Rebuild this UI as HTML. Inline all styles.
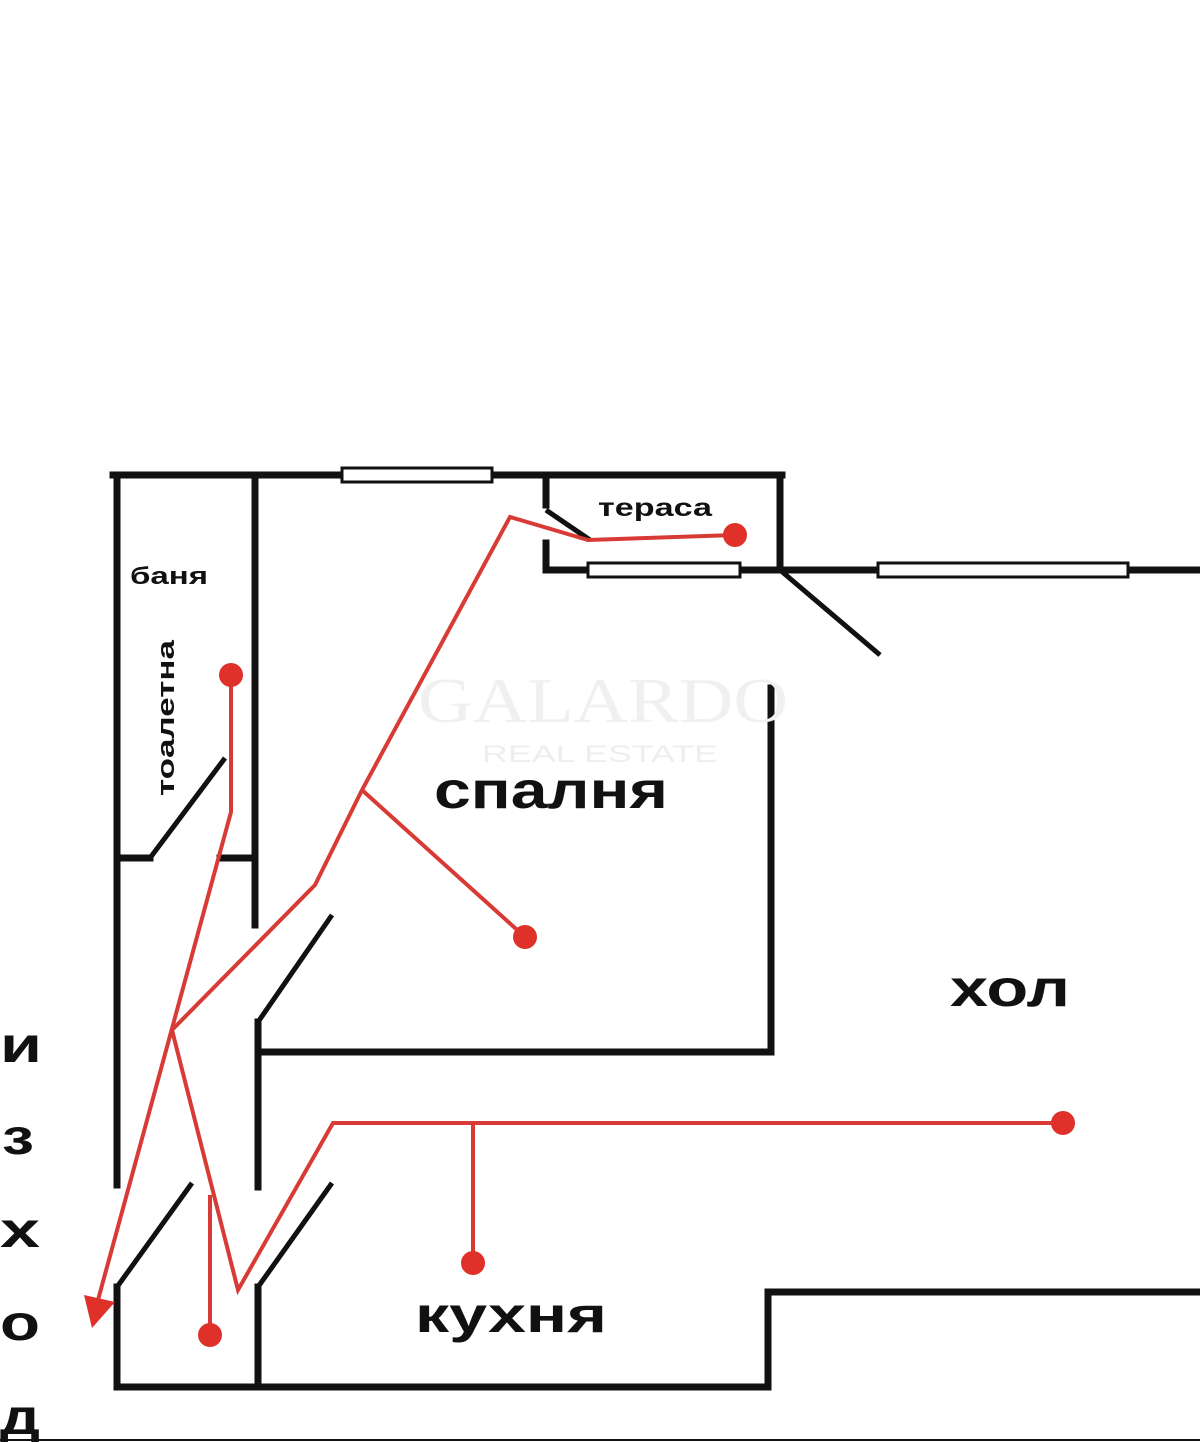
<!DOCTYPE html>
<html><head><meta charset="utf-8"><style>
html,body{margin:0;padding:0;background:#fff;}
svg{display:block;}
text{font-family:"Liberation Sans",sans-serif;font-weight:bold;fill:#111;}
</style></head><body>
<svg width="1200" height="1442" viewBox="0 0 1200 1442" xmlns="http://www.w3.org/2000/svg">
<g stroke="#111" stroke-width="7" fill="none" stroke-linecap="square">
<line x1="113" y1="475" x2="782" y2="475"/>
<line x1="117" y1="475" x2="117" y2="1185"/>
<line x1="255" y1="475" x2="255" y2="925"/>
<line x1="117" y1="858" x2="150" y2="858"/>
<line x1="220" y1="858" x2="255" y2="858"/>
<line x1="546" y1="475" x2="546" y2="505"/>
<line x1="546" y1="543" x2="546" y2="570"/>
<line x1="546" y1="570" x2="1200" y2="570"/>
<line x1="780" y1="475" x2="780" y2="570"/>
<line x1="771" y1="688" x2="771" y2="1052"/>
<line x1="258" y1="1052" x2="771" y2="1052"/>
<line x1="258" y1="1022" x2="258" y2="1187"/>
<line x1="117" y1="1287" x2="117" y2="1387"/>
<line x1="117" y1="1387" x2="768" y2="1387"/>
<line x1="768" y1="1292" x2="768" y2="1387"/>
<line x1="768" y1="1292" x2="1200" y2="1292"/>
<line x1="258" y1="1287" x2="258" y2="1385"/>
</g>
<g stroke="#111" stroke-width="5" fill="none">
<line x1="150" y1="858" x2="225" y2="758"/>
<line x1="546" y1="510" x2="590" y2="540"/>
<line x1="780" y1="570" x2="880" y2="655"/>
<line x1="258" y1="1022" x2="332" y2="915"/>
<line x1="117" y1="1287" x2="192" y2="1183"/>
<line x1="258" y1="1287" x2="332" y2="1183"/>
</g>
<g stroke="#111" stroke-width="3" fill="#fff">
<rect x="342" y="468" width="150" height="14"/>
<rect x="588" y="563" width="152" height="14"/>
<rect x="878" y="563" width="250" height="14"/>
</g>
<text x="418" y="722" font-size="64" textLength="370" lengthAdjust="spacingAndGlyphs" style="fill:#f0f0f0;font-family:'Liberation Serif',serif;font-weight:normal">GALARDO</text>
<text x="482" y="762" font-size="24" textLength="236" lengthAdjust="spacingAndGlyphs" style="fill:#eee;font-weight:normal">REAL ESTATE</text>
<g stroke="#d83a35" stroke-width="4" fill="none" stroke-linejoin="miter">
<polyline points="735,535 588,540 510,517 362,790 315,885 172,1030 238,1290 333,1123 1063,1123"/>
<line x1="362" y1="790" x2="525" y2="937"/>
<polyline points="231,675 231,812 98,1300"/>
<line x1="473" y1="1123" x2="473" y2="1263"/>
<line x1="210" y1="1195" x2="210" y2="1335"/>
</g>
<g fill="#e0302a">
<circle cx="735" cy="535" r="12"/>
<circle cx="525" cy="937" r="12"/>
<circle cx="231" cy="675" r="12"/>
<circle cx="1063" cy="1123" r="12"/>
<circle cx="473" cy="1263" r="12"/>
<circle cx="210" cy="1335" r="12"/>
<polygon points="92,1328 84,1295 115,1302"/>
</g>
<text x="598" y="516" font-size="25" textLength="114" lengthAdjust="spacingAndGlyphs">тераса</text>
<text x="130" y="584" font-size="24" textLength="78" lengthAdjust="spacingAndGlyphs">баня</text>
<text transform="translate(174,718) rotate(-90)" font-size="24" text-anchor="middle" textLength="156" lengthAdjust="spacingAndGlyphs">тоалетна</text>
<text x="434" y="808" font-size="52" textLength="234" lengthAdjust="spacingAndGlyphs">спалня</text>
<text x="950" y="1006" font-size="52" textLength="120" lengthAdjust="spacingAndGlyphs">хол</text>
<text x="415" y="1332" font-size="50" textLength="192" lengthAdjust="spacingAndGlyphs">кухня</text>
<g font-size="50">
<text x="0" y="1062" textLength="42" lengthAdjust="spacingAndGlyphs">и</text>
<text x="2" y="1154" textLength="32" lengthAdjust="spacingAndGlyphs">з</text>
<text x="0" y="1247" textLength="40" lengthAdjust="spacingAndGlyphs">х</text>
<text x="0" y="1340" textLength="40" lengthAdjust="spacingAndGlyphs">о</text>
<text x="0" y="1434" textLength="40" lengthAdjust="spacingAndGlyphs">д</text>
</g>
<line x1="0" y1="1440" x2="1200" y2="1440" stroke="#111" stroke-width="2"/>
</svg>
</body></html>
